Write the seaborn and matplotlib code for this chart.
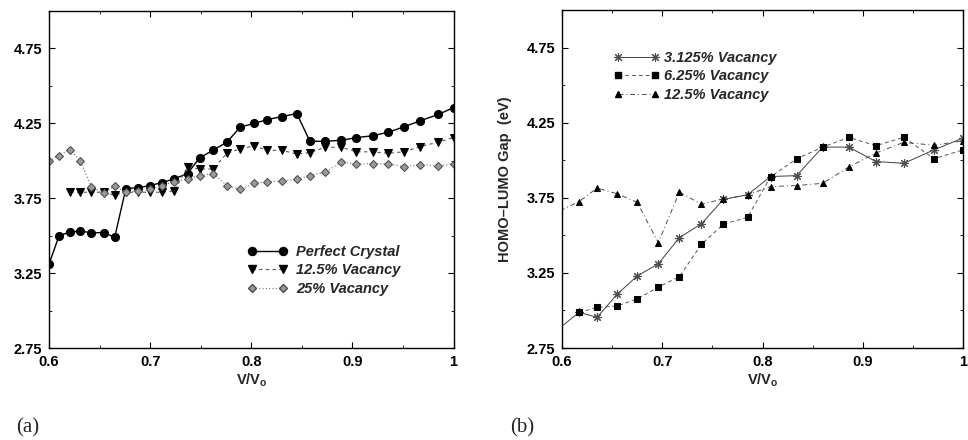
import matplotlib
matplotlib.use('Agg')
import matplotlib.pyplot as plt
import seaborn as sns
from matplotlib.lines import Line2D
from matplotlib.ticker import MultipleLocator

# ---- panel (a): V/V0 grid and gaps ----
vv_a = [0.600, 0.610, 0.621, 0.631, 0.642, 0.654, 0.665, 0.676, 0.688, 0.700,
        0.712, 0.724, 0.737, 0.749, 0.762, 0.776, 0.789, 0.803, 0.816, 0.830,
        0.845, 0.858, 0.873, 0.889, 0.904, 0.920, 0.935, 0.951, 0.967, 0.985, 1.000]
gap_perfect = [3.31, 3.50, 3.525, 3.53, 3.52, 3.52, 3.49, 3.815, 3.82, 3.835,
               3.855, 3.88, 3.915, 4.02, 4.07, 4.125, 4.225, 4.25, 4.275, 4.295,
               4.315, 4.13, 4.13, 4.137, 4.155, 4.167, 4.19, 4.227, 4.267, 4.31, 4.355]
vv_a_vac125 = vv_a[2:]
gap_a_vac125 = [3.79, 3.79, 3.79, 3.79, 3.77, 3.79, 3.79, 3.79, 3.79, 3.80,
                3.96, 3.945, 3.945, 4.05, 4.08, 4.10, 4.07, 4.07, 4.045, 4.055,
                4.09, 4.09, 4.06, 4.06, 4.05, 4.06, 4.095, 4.125, 4.155]
gap_a_vac25 = [4.00, 4.035, 4.075, 4.00, 3.825, 3.785, 3.83, 3.79, 3.80, 3.81,
               3.835, 3.86, 3.88, 3.90, 3.915, 3.835, 3.81, 3.85, 3.86, 3.865,
               3.877, 3.90, 3.925, 3.99, 3.98, 3.98, 3.98, 3.96, 3.975, 3.965, 3.98]

# ---- panel (b) ----
vv_b = [0.598, 0.617, 0.635, 0.655, 0.675, 0.696, 0.717, 0.739, 0.761, 0.785,
        0.808, 0.834, 0.860, 0.886, 0.913, 0.941, 0.971, 1.000]
gap_b_vac3125 = [2.885, 2.988, 2.955, 3.108, 3.23, 3.31, 3.485, 3.577, 3.74, 3.77,
                 3.892, 3.898, 4.088, 4.088, 3.992, 3.98, 4.07, 4.148]
vv_b_vac625 = vv_b[1:]
gap_b_vac625 = [2.988, 3.02, 3.03, 3.077, 3.155, 3.225, 3.44, 3.575, 3.62, 3.89,
                4.01, 4.088, 4.153, 4.097, 4.153, 4.01, 4.07]
gap_b_vac125 = [3.665, 3.725, 3.815, 3.777, 3.72, 3.452, 3.788, 3.708, 3.743, 3.77,
                3.825, 3.832, 3.847, 3.955, 4.048, 4.12, 4.10, 4.13]

xticks = [0.6, 0.7, 0.8, 0.9, 1.0]
xticklabels = ['0.6', '0.7', '0.8', '0.9', '1']
yticks = [2.75, 3.25, 3.75, 4.25, 4.75]

legend_a = ['Perfect Crystal', '12.5% Vacancy', '25% Vacancy']
legend_b = ['3.125% Vacancy', '6.25% Vacancy', '12.5% Vacancy']

sns.set_style('ticks')
plt.rcParams['font.family'] = ['Liberation Sans', 'DejaVu Sans']
plt.rcParams['font.weight'] = 'bold'
plt.rcParams['axes.labelweight'] = 'bold'
plt.rcParams['mathtext.fontset'] = 'custom'
plt.rcParams['mathtext.rm'] = 'Liberation Sans:bold'
plt.rcParams['mathtext.bf'] = 'Liberation Sans:bold'

fig = plt.figure(figsize=(9.68, 4.4), dpi=100)
ax1 = fig.add_axes([0.0506, 0.209, 0.418, 0.766])
ax2 = fig.add_axes([0.5806, 0.209, 0.4143, 0.768])

# styles per series
st_perfect = dict(color='black', linestyle='-', linewidth=1.0, marker='o',
                  markersize=5.8, markerfacecolor='black', markeredgecolor='black')
st_a125 = dict(color='0.35', linestyle=(0, (3, 3)), linewidth=0.8, marker='v',
               markersize=5.5, markerfacecolor='black', markeredgecolor='black')
st_a25 = dict(color='0.45', linestyle=(0, (1, 2)), linewidth=0.8, marker='D',
              markersize=4.2, markerfacecolor='0.6', markeredgecolor='0.3')

sns.lineplot(x=vv_a, y=gap_perfect, ax=ax1, sort=False, estimator=None, **st_perfect)
sns.lineplot(x=vv_a_vac125, y=gap_a_vac125, ax=ax1, sort=False, estimator=None, **st_a125)
sns.lineplot(x=vv_a, y=gap_a_vac25, ax=ax1, sort=False, estimator=None, **st_a25)

st_b3125 = dict(color='0.25', linestyle='-', linewidth=0.7, marker=(8, 2, 0),
                markersize=6.5, markeredgecolor='0.3', markeredgewidth=0.8)
st_b625 = dict(color='0.35', linestyle=(0, (4, 3)), linewidth=0.7, marker='s',
               markersize=4, markerfacecolor='black', markeredgecolor='black')
st_b125 = dict(color='0.3', linestyle=(0, (5, 3, 1, 3)), linewidth=0.7, marker='^',
               markersize=4.5, markerfacecolor='black', markeredgecolor='black')

# first point of b-series sits just off the left edge, so no marker there
sns.lineplot(x=vv_b, y=gap_b_vac3125, ax=ax2, sort=False, estimator=None,
             markevery=list(range(1, len(vv_b))), **st_b3125)
sns.lineplot(x=vv_b_vac625, y=gap_b_vac625, ax=ax2, sort=False, estimator=None, **st_b625)
sns.lineplot(x=vv_b, y=gap_b_vac125, ax=ax2, sort=False, estimator=None,
             markevery=list(range(1, len(vv_b))), **st_b125)

for ax in (ax1, ax2):
    ax.set_xlim(0.6, 1.0)
    ax.set_ylim(2.75, 5.0)
    ax.set_xticks(xticks)
    ax.set_xticklabels(xticklabels)
    ax.set_yticks(yticks)
    ax.set_yticklabels([f'{t:.2f}' for t in yticks])
    ax.xaxis.set_minor_locator(MultipleLocator(0.05))
    ax.yaxis.set_minor_locator(MultipleLocator(0.25))
    ax.tick_params(which='both', direction='in', top=True, right=True,
                   colors='black', labelsize=10.5)
    ax.tick_params(which='major', length=4, width=0.8, pad=5)
    ax.tick_params(which='minor', length=2.5, width=0.6)
    for sp in ax.spines.values():
        sp.set_color('black')
        sp.set_linewidth(1.0)
    ax.set_xlabel('V/V$_{\\mathrm{o}}$', fontsize=10.5, labelpad=2)
    ax.set_ylabel('')

ax2.set_ylabel('HOMO\u2013LUMO Gap  (eV)', fontsize=10.5)
ax2.yaxis.set_label_coords(-0.125, 0.5)

def make_handles(styles):
    hs = []
    for s in styles:
        hs.append(Line2D([0], [0], **s))
    return hs

ax1.legend(make_handles([st_perfect, st_a125, st_a25]), legend_a,
           loc='upper left', bbox_to_anchor=(248 / 968, 1 - 245 / 440),
           bbox_transform=fig.transFigure, frameon=False, numpoints=2,
           handlelength=2.7, handletextpad=0.6, labelspacing=0.3,
           borderpad=0, borderaxespad=0,
           prop=dict(family='Liberation Sans', weight='bold', style='italic', size=10.5))
ax2.legend(make_handles([st_b3125, st_b625, st_b125]), legend_b,
           loc='upper left', bbox_to_anchor=(614 / 968, 1 - 51 / 440),
           bbox_transform=fig.transFigure, frameon=False, numpoints=2,
           handlelength=3.1, handletextpad=0.3, labelspacing=0.3,
           borderpad=0, borderaxespad=0,
           prop=dict(family='Liberation Sans', weight='bold', style='italic', size=10.5))

fig.text(16 / 968, 1 - 428 / 440, '(a)', family='Liberation Serif', fontsize=15,
         fontweight='normal', va='center', ha='left')
fig.text(510 / 968, 1 - 428 / 440, '(b)', family='Liberation Serif', fontsize=15,
         fontweight='normal', va='center', ha='left')

fig.savefig('out.png', dpi=100)
